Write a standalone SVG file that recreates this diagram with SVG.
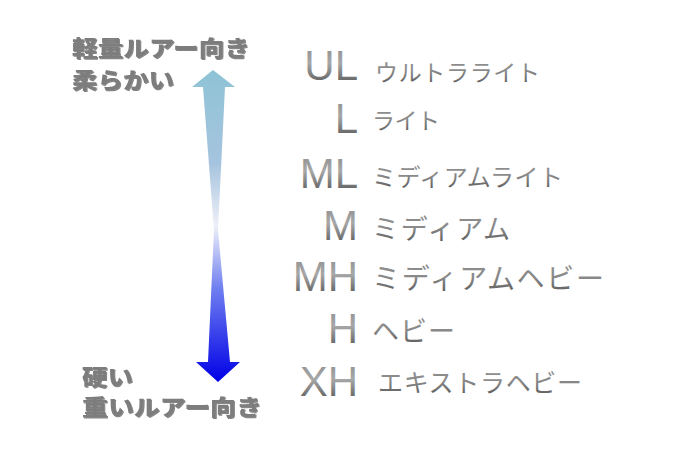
<svg xmlns="http://www.w3.org/2000/svg" width="695" height="460" viewBox="0 0 695 460">
<defs>
<linearGradient id="arrowGrad" x1="0" y1="70" x2="0" y2="382" gradientUnits="userSpaceOnUse">
<stop offset="0" stop-color="#8ec3d6"/>
<stop offset="0.3" stop-color="#a6c4df"/>
<stop offset="0.5" stop-color="#eef0f8"/>
<stop offset="0.7" stop-color="#6f7ff0"/>
<stop offset="1" stop-color="#0000e6"/>
</linearGradient>
<linearGradient id="metal" x1="0" y1="0" x2="0" y2="1">
<stop offset="0" stop-color="#8a8a8a"/>
<stop offset="0.45" stop-color="#a8a8a8"/>
<stop offset="1" stop-color="#4a4a4a"/>
</linearGradient>
<linearGradient id="kanaGrad" x1="0" y1="0" x2="0" y2="1">
<stop offset="0" stop-color="#909090"/>
<stop offset="0.5" stop-color="#8a8a8a"/>
<stop offset="1" stop-color="#505050"/>
</linearGradient>
<filter id="shadow" x="-10%" y="-20%" width="130%" height="150%">
<feDropShadow dx="1" dy="1" stdDeviation="0.6" flood-color="#333" flood-opacity="0.6"/>
</filter>
</defs>
<style>
.side{font-family:"Noto Sans CJK JP","Noto Sans",sans-serif;font-weight:900;font-size:22px;fill:#7d7d7d;filter:url(#shadow)}
.abbr{font-family:"Liberation Sans","DejaVu Sans",sans-serif;font-weight:normal;font-size:42px;fill:url(#metal);text-anchor:end}
.kana{font-family:"Noto Sans CJK JP",sans-serif;font-weight:normal;fill:url(#kanaGrad)}
</style>
<rect width="695" height="460" fill="#ffffff"/>
<g id="arrow">
<path d="M213,70 L235,87 L225,87 L218,230 L230,362 L240,362 L218,382 L196,362 L208,362 L214,230 L203,87 L192,87 Z" fill="url(#arrowGrad)"/>
</g>
<g id="label-top">
<text class="side" x="72" y="56" textLength="178" lengthAdjust="spacingAndGlyphs">軽量ルアー向き</text>
<text class="side" x="72" y="88" textLength="102" lengthAdjust="spacingAndGlyphs">柔らかい</text>
</g>
<g id="label-bottom">
<text class="side" x="82" y="385" textLength="51" lengthAdjust="spacingAndGlyphs">硬い</text>
<text class="side" x="82" y="415" textLength="180" lengthAdjust="spacingAndGlyphs">重いルアー向き</text>
</g>
<g id="row-UL"><text class="abbr" x="358" y="80">UL</text><text class="kana" x="375" y="81" font-size="23" textLength="165" lengthAdjust="spacing">ウルトラライト</text></g>
<g id="row-L"><text class="abbr" x="358" y="133">L</text><text class="kana" x="372" y="129" font-size="23" textLength="68" lengthAdjust="spacing">ライト</text></g>
<g id="row-ML"><text class="abbr" x="358" y="188">ML</text><text class="kana" x="372" y="186" font-size="24" textLength="191" lengthAdjust="spacing">ミディアムライト</text></g>
<g id="row-M"><text class="abbr" x="358" y="240">M</text><text class="kana" x="372" y="239" font-size="27" textLength="138" lengthAdjust="spacing">ミディアム</text></g>
<g id="row-MH"><text class="abbr" x="358" y="291">MH</text><text class="kana" x="372" y="289" font-size="28" textLength="232" lengthAdjust="spacing">ミディアムヘビー</text></g>
<g id="row-H"><text class="abbr" x="358" y="343">H</text><text class="kana" x="372" y="341" font-size="27" textLength="83" lengthAdjust="spacing">ヘビー</text></g>
<g id="row-XH"><text class="abbr" x="358" y="396">XH</text><text class="kana" x="378" y="392" font-size="25" textLength="204" lengthAdjust="spacing">エキストラヘビー</text></g>
</svg>
